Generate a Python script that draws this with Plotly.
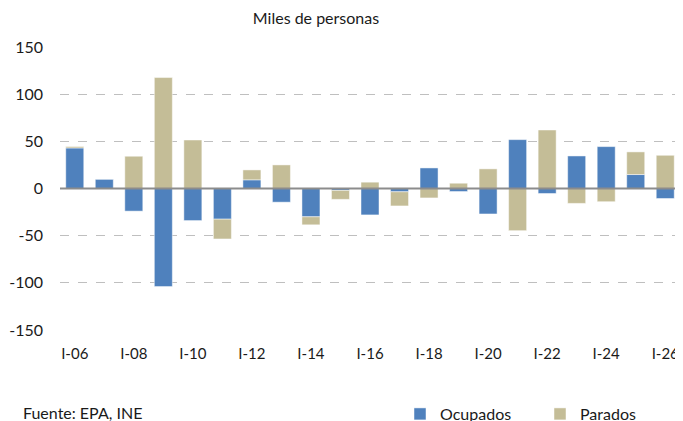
import plotly.graph_objects as go

categories = [f"I-{y:02d}" for y in range(6, 27)]
ocupados = [43, 10, -24, -104, -34, -32.5, 9.2, -14.5, -30, -2, -28, -3.5, 21.8, -3.2, -27, 51.8, -5.3, 34.5, 44.4, 14.8, -10.6]
parados = [1.5, 0, 34.2, 117.6, 51.4, -21, 10.5, 25, -8.5, -9.5, 6.7, -15, -10, 5.6, 20.8, -44.7, 62, -15.8, -14, 24, 35.2]
tick_labels = categories[::2]
y_ticks = [-150, -100, -50, 0, 50, 100, 150]
y_tick_text = ["-150", "-100", "-50", "0", "50", "100", "150"]

font_family = "Lato, 'Open Sans', sans-serif"

# page body has an 8px margin; figure sized so it fits the 683x421 window
W, H = 675, 413
L, R, T, B = 52, 3, 39, 91
plot_w = W - L - R
plot_h = H - T - B

def px_x(sx):
    return (sx - 8 - L) / plot_w

def px_y(sy):
    return (H - B - (sy - 8)) / plot_h

fig = go.Figure()
fig.add_trace(go.Bar(x=categories, y=ocupados, name="Ocupados",
                     marker=dict(color="#4F81BD", line=dict(color="rgba(255,255,255,0.6)", width=0.8))))
fig.add_trace(go.Bar(x=categories, y=parados, name="Parados",
                     marker=dict(color="#C4BD97", line=dict(color="rgba(255,255,255,0.6)", width=0.8))))

fig.update_layout(
    barmode="relative",
    bargap=0.39,
    width=W, height=H,
    margin=dict(l=L, r=R, t=T, b=B, autoexpand=False),
    paper_bgcolor="white", plot_bgcolor="white",
    font=dict(family=font_family, size=15, color="#1a1a1a"),
    title=dict(text="Miles de personas", x=(316 - 8) / W, xref="container", xanchor="center",
               y=1 - (18 - 8) / H, yref="container", yanchor="middle",
               font=dict(size=16, color="#1a1a1a")),
    showlegend=True,
    legend=dict(orientation="h", x=px_x(400), xanchor="left", y=px_y(414), yanchor="middle",
                font=dict(size=16), itemwidth=30, traceorder="normal",
                entrywidth=95, entrywidthmode="pixels"),
    xaxis=dict(type="category", tickmode="array", tickvals=tick_labels, ticktext=tick_labels,
               showgrid=False, showline=False, ticks="outside", ticklen=10, tickcolor="rgba(0,0,0,0)",
               tickfont=dict(size=15)),
    yaxis=dict(range=[-150, 150], tickmode="array", tickvals=y_ticks, ticktext=y_tick_text,
               showgrid=True, gridcolor="#BFBFBF", griddash="dash", gridwidth=1,
               zeroline=False, showline=False, ticklabelstandoff=16, tickfont=dict(size=16)),
    annotations=[dict(text="Fuente: EPA, INE", x=px_x(21), xref="paper", xanchor="left",
                      y=px_y(413), yref="paper", yanchor="middle", showarrow=False,
                      font=dict(size=16, color="#1a1a1a"))],
    shapes=[dict(type="line", xref="paper", yref="y", x0=0, x1=1, y0=0, y1=0,
                 line=dict(color="#8C8C8C", width=2), layer="above")],
)

fig.write_html("out.html")
